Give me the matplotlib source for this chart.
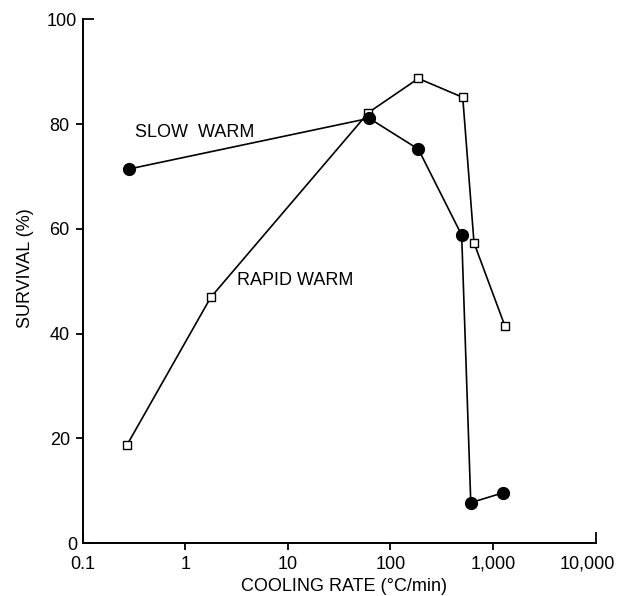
import matplotlib
matplotlib.use('Agg')
import matplotlib.pyplot as plt
from matplotlib.ticker import FixedLocator, FixedFormatter
from matplotlib.transforms import ScaledTranslation

plt.rcParams['font.family'] = ['Liberation Sans', 'DejaVu Sans']

# slow warm: filled circles
slow_rate = [0.28, 62, 187, 494, 606, 1256]
slow_surv = [71.4, 81.1, 75.2, 58.8, 7.7, 9.6]

# rapid warm: open squares
rapid_rate = [0.27, 1.77, 61, 187, 506, 652, 1306]
rapid_surv = [18.7, 46.9, 82.2, 88.7, 85.1, 57.3, 41.4]

x_ticks = [1, 10, 100, 1000]
x_labels = ['1', '10', '100', '1,000']
x_ends = [0.1, 10000]
x_end_labels = ['0.1', '10,000']
y_ticks = [20, 40, 60, 80]
y_ends = [0, 100]

fig = plt.figure(figsize=(6.18, 5.96), dpi=100)
ax = fig.add_axes([0.1338, 0.0889, 0.8301, 0.8787])

ax.plot(rapid_rate, rapid_surv, color='black', lw=1.2, marker='s', ms=6,
        mfc='white', mec='black', mew=1.0, zorder=2)
ax.plot(slow_rate, slow_surv, color='black', lw=1.2, marker='o', ms=8.5,
        mfc='black', mec='black', zorder=3)

ax.set_xscale('log')
ax.set_xlim(0.1, 10000)
ax.set_ylim(0, 100)

ax.xaxis.set_major_locator(FixedLocator(x_ticks))
ax.xaxis.set_major_formatter(FixedFormatter(x_labels))
ax.xaxis.set_minor_locator(FixedLocator(x_ends))
ax.xaxis.set_minor_formatter(FixedFormatter(x_end_labels))
ax.yaxis.set_major_locator(FixedLocator(y_ticks))
ax.yaxis.set_minor_locator(FixedLocator(y_ends))
ax.yaxis.set_minor_formatter(FixedFormatter([str(v) for v in y_ends]))

for s in ['top', 'right']:
    ax.spines[s].set_visible(False)
for s in ['left', 'bottom']:
    ax.spines[s].set_linewidth(1.4)

ax.tick_params(which='major', direction='out', length=5.3, width=1.3,
               labelsize=13, pad=4)
ax.tick_params(which='minor', direction='in', length=8, width=1.3,
               labelsize=13, pad=9.3)
ax.tick_params(axis='y', which='minor', pad=4)
ax.tick_params(axis='x', which='major', pad=4)

ax.set_xlabel('COOLING RATE (°C/min)', fontsize=13)
ax.xaxis.set_label_coords(0.509, -0.066)
ax.set_ylabel('SURVIVAL (%)', fontsize=13)
ax.yaxis.set_label_coords(-0.094, 0.525)

ax.text(0.102, 0.784, 'SLOW  WARM', transform=ax.transAxes, fontsize=13,
        va='center', ha='left')
ax.text(0.301, 0.501, 'RAPID WARM', transform=ax.transAxes, fontsize=13,
        va='center', ha='left')

# the 10,000 label sits a little left of its tick in the original
lab = ax.get_xticklabels(minor=True)[1]
lab.set_transform(lab.get_transform() + ScaledTranslation(-0.08, 0, fig.dpi_scale_trans))

fig.savefig('out.png', dpi=100)
